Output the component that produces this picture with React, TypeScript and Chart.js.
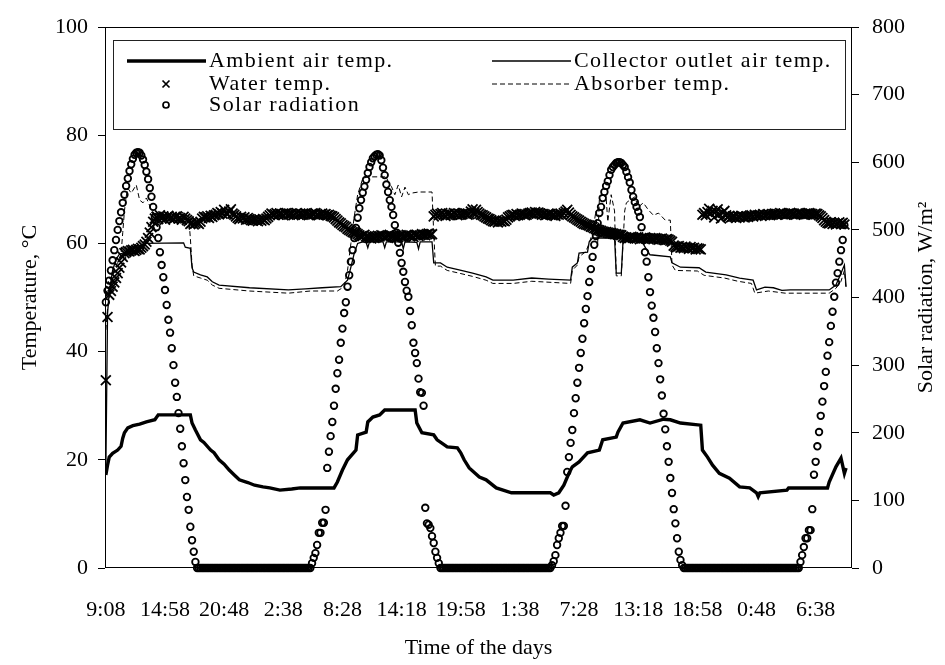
import { useEffect, useRef } from "react";
import { Chart, registerables } from "chart.js";

Chart.register(...registerables);

const FONT = '"Liberation Serif", "Times New Roman", serif';

// x index = 10-minute steps from 9:08 on day 1
const TICK_POS = [0, 35, 70, 105, 140, 175, 210, 245, 280, 315, 350, 385, 420];
const TICK_LABELS = ["9:08", "14:58", "20:48", "2:38", "8:28", "14:18", "19:58", "1:38", "7:28", "13:18", "18:58", "0:48", "6:38"];
const TEMP_TICKS = [0, 20, 40, 60, 80, 100];
const SOLAR_TICKS = [0, 100, 200, 300, 400, 500, 600, 700, 800];

// Solar radiation, W/m2, one value per 10-min step (index 0..437)
const SOLAR = [
  393, 410, 425, 440, 455, 470, 485, 500, 513, 526,
  540, 552, 565, 576, 587, 597, 605, 611, 614, 615,
  614, 610, 604, 596, 586, 575, 562, 549, 534, 519,
  504, 488, 467, 448, 430, 411, 389, 367, 348, 325,
  300, 274, 253, 229, 206, 180, 155, 130, 105, 86,
  61, 41, 24, 9,
  0, 0, 0, 0, 0, 0, 0, 0, 0, 0,
  0, 0, 0, 0, 0, 0, 0, 0, 0, 0,
  0, 0, 0, 0, 0, 0, 0, 0, 0, 0,
  0, 0, 0, 0, 0, 0, 0, 0, 0, 0,
  0, 0, 0, 0, 0, 0, 0, 0, 0, 0,
  0, 0, 0, 0, 0, 0, 0, 0, 0, 0,
  0, 0, 0, 0, 0, 0, 0, 0,
  7, 15, 22, 34, 52, 52, 67, 67, 86, 148,
  172, 195, 216, 240, 265, 288, 308, 333, 354, 377,
  393, 416, 433, 453, 470, 488, 503, 518, 532, 544,
  555, 564, 574, 584, 593, 600, 606, 609, 611, 612,
  610, 603, 592, 581, 567, 556, 544, 534, 522, 507,
  496, 481, 466, 451, 438, 423, 410, 401, 380, 359,
  333, 318, 303, 280, 260, 259, 240, 89, 66, 64,
  59, 47, 37, 24, 15, 7,
  0, 0, 0, 0, 0, 0, 0, 0, 0, 0,
  0, 0, 0, 0, 0, 0, 0, 0, 0, 0,
  0, 0, 0, 0, 0, 0, 0, 0, 0, 0,
  0, 0, 0, 0, 0, 0, 0, 0, 0, 0,
  0, 0, 0, 0, 0, 0, 0, 0, 0, 0,
  0, 0, 0, 0, 0, 0, 0, 0, 0, 0,
  0, 0, 0, 0, 0, 0,
  4, 10, 19, 34, 44, 52, 62, 62, 92, 142,
  164, 185, 204, 229, 251, 274, 296, 318, 339, 362,
  383, 402, 423, 442, 460, 478, 491, 510, 525, 534,
  547, 556, 565, 572, 581, 589, 593, 596, 599, 600,
  600, 599, 596, 593, 586, 578, 570, 559, 549, 541,
  534, 527, 519, 504, 485, 467, 453, 430, 408, 388,
  370, 349, 325, 303, 279, 255, 228, 205, 180, 157,
  133, 111, 87, 66, 44, 24, 12, 4,
  0, 0, 0, 0, 0, 0, 0, 0, 0, 0,
  0, 0, 0, 0, 0, 0, 0, 0, 0, 0,
  0, 0, 0, 0, 0, 0, 0, 0, 0, 0,
  0, 0, 0, 0, 0, 0, 0, 0, 0, 0,
  0, 0, 0, 0, 0, 0, 0, 0, 0, 0,
  0, 0, 0, 0, 0, 0, 0, 0, 0, 0,
  0, 0, 0, 0, 0, 0, 0, 0, 0,
  9, 19, 31, 44, 44, 56, 56, 87, 138, 157,
  180, 201, 225, 246, 269, 290, 314, 334, 358, 379,
  401, 422, 436, 453, 470, 485, 507,
];

// Water temperature, degC, one value per 10-min step (index 0..437)
const WATER = [
  34.7, 46.4, 50.5, 51.2, 52, 52.8, 53.6, 54.5, 55.5, 56.5,
  57.5, 58.2, 58.4, 58.6, 58.5, 58.7, 58.8, 58.6, 58.8, 59,
  58.9, 59.2, 59.5, 59.8, 60.3, 61, 62, 63, 64, 64.6,
  64.9, 64.5, 65.2, 64.6, 65.0, 64.4, 64.8, 65.1, 64.6, 64.9,
  64.5, 64.8, 65.0, 64.6, 64.7, 64.4, 64.9, 64.6, 64.3, 64.1,
  63.6, 63.8, 63.5, 63.7, 63.9, 63.6, 64.0,
  64.6, 64.9, 64.8, 65.0, 64.7, 65.1, 64.9, 65.2, 65.3,
  65.6, 65.4, 65.8, 65.5, 66.2, 65.6, 65.4, 65.9, 66.3, 65.5, 65.3, 65.0,
  64.7, 64.5, 64.9, 64.6, 64.8, 64.4, 64.7, 64.5, 64.3, 64.2, 64.4,
  64.3, 64.1, 64.4, 64.2, 64.5, 64.3, 64.6, 64.9,
  65.2, 65.5, 65.3, 65.4, 65.6, 65.3, 65.5, 65.4, 65.2, 65.5,
  65.6, 65.3, 65.4, 65.5, 65.2, 65.4, 65.6, 65.3, 65.5, 65.4,
  65.3, 65.5, 65.4, 65.2, 65.3, 65.5, 65.4, 65.6, 65.3, 65.2,
  65.4, 65.5, 65.3, 65.4, 65.2, 65.3, 65.1, 65.0,
  64.8, 64.5, 64.2, 63.9, 63.7, 63.4, 63.2, 63.0, 62.7, 62.5, 62.3, 62.1, 62.0, 61.9, 61.7,
  61.5, 61.3, 61.4, 61.6, 61.3, 61.2, 61.0, 60.9, 61.1, 61.0,
  61.2, 61.4, 61.3, 61.5, 61.4, 61.2, 61.3, 61.5, 61.6, 61.4,
  61.3, 61.1, 61.0, 61.2, 61.4, 61.5, 61.3, 61.4, 61.6, 61.5,
  61.3, 61.4, 61.2, 61.5, 61.6, 61.4, 61.5, 61.7, 61.6, 61.5,
  61.7, 61.8, 61.6, 61.7,
  65.0, 65.3, 65.5, 65.2, 65.4, 65.6, 65.3, 65.1, 65.4, 65.5,
  65.2, 65.3, 65.6, 65.4, 65.2, 65.5, 65.3, 65.4, 65.6, 65.5,
  65.3, 65.4,
  65.9, 66.3, 65.6, 66.2, 65.8, 65.5, 65.3,
  65.2, 65.0, 64.8, 64.6, 64.5, 64.3,
  64.1, 64.0, 64.2, 63.9, 64.1, 64.0, 64.2, 64.1, 64.4,
  64.8, 65.0, 65.2, 65.3, 65.1, 65.4, 65.2, 65.3, 65.5, 65.4, 65.2, 65.3, 65.5,
  65.6, 65.7, 65.5, 65.8, 65.6, 65.7,
  65.5, 65.3, 65.4, 65.2, 65.3, 65.5, 65.4, 65.2, 65.3, 65.1,
  65.4, 65.3, 65.5, 65.2, 65.6, 65.9, 66.2, 65.7, 65.3, 65.0,
  64.8, 64.6, 64.4, 64.2, 64.0, 63.8, 63.6, 63.5, 63.4, 63.3,
  63.1, 63.0, 62.8, 62.7, 62.5, 62.4, 62.3, 62.2, 62.1, 62.1,
  62.0, 61.9, 61.9, 61.8, 61.7, 61.7, 61.6, 61.6, 61.5,
  61.2, 61.0, 61.1, 60.9, 61.0, 61.2, 61.1, 60.9, 61.0, 61.1,
  60.8, 60.9, 61.0, 61.1, 60.9, 60.8, 61.0, 60.9, 60.8, 61.0,
  60.9, 60.7, 60.8, 60.9, 60.7, 60.6, 60.8, 60.7, 60.5, 60.3,
  59.6, 59.4, 59.3, 59.5, 59.2, 59.3, 59.1, 59.4, 59.2, 59.0,
  59.3, 59.1, 59.2, 58.9, 59.1, 59.0, 58.9,
  65.3, 65.6, 65.2,
  65.8, 66.4, 65.5, 66.0, 64.8, 65.9, 66.3, 65.4, 64.6, 65.7, 66.0, 65.2,
  64.9, 65.1, 64.8, 65.0, 64.9, 64.7, 65.0, 64.8, 65.1, 64.9,
  64.8, 65.0, 64.9, 65.1, 65.2, 65.0, 65.3, 65.1, 65.2, 65.3,
  65.1, 65.4, 65.2, 65.3, 65.4, 65.2, 65.3,
  65.4, 65.5, 65.3, 65.4, 65.6, 65.4, 65.5, 65.3, 65.4, 65.5,
  65.6, 65.4, 65.5, 65.3, 65.4, 65.6, 65.5, 65.4, 65.3, 65.5,
  65.4, 65.6, 65.5, 65.4, 65.3, 65.5, 65.4, 65.2, 65.0, 64.7,
  64.3, 64.0, 63.8, 63.7, 63.9, 63.6, 63.8, 63.5, 63.7, 63.9, 63.6, 63.8, 63.5,
];

// [index, degC] readings where the line changes
const AMBIENT: [number, number][] = [
  [0, 17.2], [1, 19], [2, 20.5], [4, 21.2], [7, 21.8], [9, 22.5], [10, 24], [11, 25], [13, 25.9], [16, 26.3],
  [20, 26.6], [24, 27], [29, 27.4], [31, 28.3], [50, 28.3], [51, 26.8], [53, 25.5], [56, 23.7], [58, 23.2], [62, 21.8],
  [64, 21.3], [67, 20], [70, 19.2], [73, 18.1], [76, 17.2], [79, 16.3], [84, 15.8], [88, 15.3], [93, 15], [97, 14.8],
  [103, 14.4], [110, 14.6], [115, 14.8], [135, 14.8], [137, 15.9], [140, 18.1], [143, 20], [148, 21.8], [149, 24.6], [154, 25.1],
  [155, 27], [158, 27.9], [162, 28.3], [165, 29.2], [183, 29.2], [184, 26.8], [187, 25], [194, 24.6], [196, 23.7], [202, 22.4],
  [208, 22.2], [210, 21.3], [212, 20], [215, 18.5], [221, 16.8], [225, 16.3], [231, 14.8], [240, 13.9], [263, 13.9], [265, 13.5],
  [268, 13.9], [271, 15.3], [274, 17.5], [276, 18.7], [280, 19.6], [285, 21.3], [292, 21.8], [294, 23.7], [302, 24.2], [303, 25.1],
  [306, 26.8], [316, 27.4], [322, 26.8], [330, 27.5], [334, 27.4], [340, 26.8], [352, 26.4], [353, 21.8], [356, 20.5], [359, 19],
  [363, 17.5], [369, 16.6], [375, 15], [381, 14.8], [385, 13.9], [386, 13.2], [387, 13.9], [403, 14.4], [404, 14.8], [427, 14.8],
  [428, 15.9], [432, 18.7], [435, 20.3], [437, 17.5], [438, 18.5],
];

const OUTLET: [number, number][] = [
  [0, 18], [1, 47], [2, 51], [4, 55], [6, 57], [8, 58], [11, 58.3], [22, 58.6], [23, 60], [46, 60.1],
  [47, 59.3], [50, 59.1], [51, 55.5], [52, 54.7], [56, 54.2], [60, 53.8], [63, 52.9], [67, 52.3], [85, 51.8], [108, 51.4],
  [118, 51.6], [128, 51.8], [139, 52], [143, 53.2], [145, 55.6], [147, 58.2], [149, 60], [152, 60.3], [154, 60.2], [155, 59.2],
  [156, 60.3], [164, 60.3], [165, 59.2], [166, 60.3], [175, 60.3], [176, 59], [177, 60.3], [184, 60.2], [185, 59], [186, 60.3],
  [193, 60.3], [194, 56.4], [198, 56.4], [202, 55.6], [209, 55.1], [217, 54.5], [225, 53.8], [229, 53.2], [241, 53.2], [252, 53.6],
  [262, 53.4], [275, 53.2], [276, 55.6], [279, 56.4], [280, 58.2], [285, 58.4], [286, 60.3], [288, 61], [301, 61], [302, 54.5],
  [305, 54.5], [306, 60.3], [308, 61], [316, 61], [320, 58.8], [322, 57.9], [334, 57.5], [335, 56.4], [340, 55.6], [351, 55.5],
  [355, 54.7], [367, 54.2], [375, 53.6], [383, 53.2], [385, 51.4], [390, 51.9], [395, 51.8], [400, 51.3], [405, 51.4], [428, 51.4],
  [432, 52.3], [435, 54.5], [437, 56], [438, 52],
];

const ABSORBER: [number, number][] = [
  [0, 44], [1, 48], [3, 52], [5, 55], [7, 56.5], [9, 58], [10, 62], [11, 66], [12, 68.6], [13, 70.2],
  [15, 69.3], [18, 70.8], [20, 68], [22, 67.5], [24, 68.4], [27, 66.2], [30, 65], [35, 65.5], [40, 65.2], [45, 65.8],
  [49, 65], [50, 61], [51, 56], [52, 54], [56, 53.6], [60, 53.2], [63, 52.3], [67, 51.7], [85, 51.2], [108, 50.8],
  [121, 51.2], [137, 51.2], [141, 52], [143, 55], [145, 60], [147, 65], [149, 69], [152, 72], [155, 72.3], [166, 72.3],
  [167, 71.4], [169, 70.5], [171, 69], [173, 70.8], [175, 68.6], [177, 70.4], [179, 69], [181, 69.3], [185, 69.5], [193, 69.5],
  [194, 62], [195, 55.8], [198, 55.8], [202, 55], [209, 54.5], [217, 53.9], [225, 53.2], [229, 52.6], [241, 52.6], [252, 53],
  [275, 52.6], [276, 55], [279, 56], [280, 57.5], [284, 58.5], [286, 60], [288, 62], [290, 66], [291, 60], [292, 68],
  [294, 69], [296, 68.5], [297, 64], [299, 69], [301, 66], [302, 54], [305, 54], [306, 60], [307, 66], [308, 67.5],
  [310, 68], [313, 68.6], [315, 66.7], [318, 67.5], [321, 66.2], [324, 65.2], [327, 65.6], [331, 64.3], [334, 64.3], [335, 56],
  [337, 55], [350, 54.9], [354, 54.1], [366, 53.6], [374, 53], [382, 52.6], [384, 50.8], [392, 51.2], [402, 50.8], [428, 50.8],
  [432, 51.7], [435, 53], [437, 55], [438, 51.5],
];

const toXY = (arr: number[]) => arr.map((y, x) => ({ x, y }));
const pairsXY = (arr: [number, number][]) => arr.map(([x, y]) => ({ x, y }));

const decorPlugin = {
  id: "decor",
  afterDraw(chart: any) {
    const { ctx, chartArea: a } = chart;
    ctx.save();
    // plot frame
    ctx.strokeStyle = "#000";
    ctx.lineWidth = 1;
    ctx.setLineDash([]);
    ctx.strokeRect(Math.round(a.left) + 0.5, Math.round(a.top) + 0.5, Math.round(a.right - a.left) - 1, Math.round(a.bottom - a.top) - 1);

    // legend box
    const bx1 = 113, by1 = 40, bx2 = 845, by2 = 129;
    ctx.fillStyle = "#fff";
    ctx.fillRect(bx1, by1, bx2 - bx1, by2 - by1);
    ctx.strokeStyle = "#222";
    ctx.strokeRect(bx1 + 0.5, by1 + 0.5, bx2 - bx1, by2 - by1);

    ctx.font = `22px ${FONT}`;
    try { (ctx as any).letterSpacing = "1.4px"; } catch (e) { /* ignore */ }
    ctx.fillStyle = "#000";
    ctx.textBaseline = "middle";
    ctx.textAlign = "left";
    const r1 = 61, r2 = 84, r3 = 105;

    ctx.strokeStyle = "#000";
    ctx.lineWidth = 3.4;
    ctx.beginPath(); ctx.moveTo(127, r1); ctx.lineTo(206, r1); ctx.stroke();
    ctx.fillText("Ambient air temp.", 209, r1);

    ctx.lineWidth = 1.3;
    ctx.beginPath(); ctx.moveTo(492, r1); ctx.lineTo(571, r1); ctx.stroke();
    ctx.fillText("Collector outlet air temp.", 574, r1);

    ctx.lineWidth = 1.7;
    ctx.beginPath();
    ctx.moveTo(162.5, r2 - 3.5); ctx.lineTo(169.5, r2 + 3.5);
    ctx.moveTo(169.5, r2 - 3.5); ctx.lineTo(162.5, r2 + 3.5);
    ctx.stroke();
    ctx.fillText("Water temp.", 209, r2);

    ctx.lineWidth = 1;
    ctx.setLineDash([5, 3]);
    ctx.beginPath(); ctx.moveTo(492, r2); ctx.lineTo(571, r2); ctx.stroke();
    ctx.setLineDash([]);
    ctx.fillText("Absorber temp.", 574, r2);

    ctx.lineWidth = 1.7;
    ctx.beginPath(); ctx.arc(166, r3, 3, 0, Math.PI * 2); ctx.stroke();
    ctx.fillText("Solar radiation", 209, r3);

    // right axis title (reads bottom to top)
    try { (ctx as any).letterSpacing = "0px"; } catch (e) { /* ignore */ }
    ctx.translate(926, (a.top + a.bottom) / 2);
    ctx.rotate(-Math.PI / 2);
    ctx.textAlign = "center";
    ctx.fillText("Solar radiation, W/m²", 0, 0);
    ctx.restore();
  },
};

export default function App() {
  const ref = useRef<HTMLCanvasElement | null>(null);

  useEffect(() => {
    if (!ref.current) return;
    Chart.defaults.font.family = FONT;
    Chart.defaults.font.size = 22;
    Chart.defaults.color = "#000";

    const tickFont = { family: FONT, size: 22 };
    const chart = new Chart(ref.current, {
      type: "line",
      data: {
        datasets: [
          {
            label: "Solar radiation",
            data: toXY(SOLAR),
            yAxisID: "y1",
            showLine: false,
            clip: false,
            pointStyle: "circle",
            pointRadius: 3.3,
            pointBorderWidth: 1.8,
            pointBorderColor: "#000",
            pointBackgroundColor: "rgba(0,0,0,0)",
            order: 0,
          },
          {
            label: "Ambient air temp.",
            data: pairsXY(AMBIENT),
            yAxisID: "y",
            borderColor: "#000",
            borderWidth: 3.4,
            pointRadius: 0,
            fill: false,
            order: 1,
          },
          {
            label: "Collector outlet air temp.",
            data: pairsXY(OUTLET),
            yAxisID: "y",
            borderColor: "#000",
            borderWidth: 1.3,
            pointRadius: 0,
            fill: false,
            order: 2,
          },
          {
            label: "Absorber temp.",
            data: pairsXY(ABSORBER),
            yAxisID: "y",
            borderColor: "#000",
            borderWidth: 1,
            borderDash: [5, 3],
            pointRadius: 0,
            fill: false,
            order: 3,
          },
          {
            label: "Water temp.",
            data: toXY(WATER),
            yAxisID: "y",
            showLine: false,
            clip: false,
            pointStyle: "crossRot",
            pointRadius: 7,
            pointBorderWidth: 1.8,
            pointBorderColor: "#000",
            pointBackgroundColor: "#000",
            order: 4,
          },
        ],
      },
      options: {
        responsive: false,
        animation: false,
        events: [],
        layout: { padding: { top: 27, left: 0, right: 0, bottom: 0 } },
        plugins: { legend: { display: false }, tooltip: { enabled: false }, title: { display: false } },
        scales: {
          x: {
            type: "linear",
            min: -0.5,
            max: 441.5,
            afterBuildTicks: (s: any) => { s.ticks = TICK_POS.map((v) => ({ value: v })); },
            afterFit: (s: any) => { s.height = 97; },
            grid: { display: false },
            border: { display: false },
            ticks: {
              autoSkip: false,
              maxRotation: 0,
              padding: 21,
              color: "#000",
              font: tickFont,
              callback: (v: any) => TICK_LABELS[TICK_POS.indexOf(Number(v))] ?? "",
            },
            title: { display: true, text: "Time of the days", color: "#000", font: tickFont, padding: { top: 0, bottom: 4 } },
          },
          y: {
            type: "linear",
            position: "left",
            min: 0,
            max: 100,
            afterBuildTicks: (s: any) => { s.ticks = TEMP_TICKS.map((v) => ({ value: v })); },
            afterFit: (s: any) => { s.width = 105; },
            grid: { drawOnChartArea: false, drawTicks: true, tickLength: 7, color: "#000", lineWidth: 1 },
            border: { display: false },
            ticks: { padding: 10, color: "#000", font: tickFont },
            title: { display: true, text: "Temperature, °C", color: "#000", font: tickFont, padding: { top: 17, bottom: 0 } },
          },
          y1: {
            type: "linear",
            position: "right",
            min: 0,
            max: 800,
            afterBuildTicks: (s: any) => { s.ticks = SOLAR_TICKS.map((v) => ({ value: v })); },
            afterFit: (s: any) => { s.width = 93; },
            grid: { drawOnChartArea: false, drawTicks: true, tickLength: 7, color: "#000", lineWidth: 1 },
            border: { display: false },
            ticks: { padding: 13, color: "#000", font: tickFont },
          },
        },
      },
      plugins: [decorPlugin],
    } as any);
    return () => chart.destroy();
  }, []);

  return (
    <div style={{ position: "absolute", left: 0, top: 0, width: 945, height: 665, background: "#fff" }}>
      <canvas ref={ref} width={945} height={665} style={{ display: "block" }} />
    </div>
  );
}
